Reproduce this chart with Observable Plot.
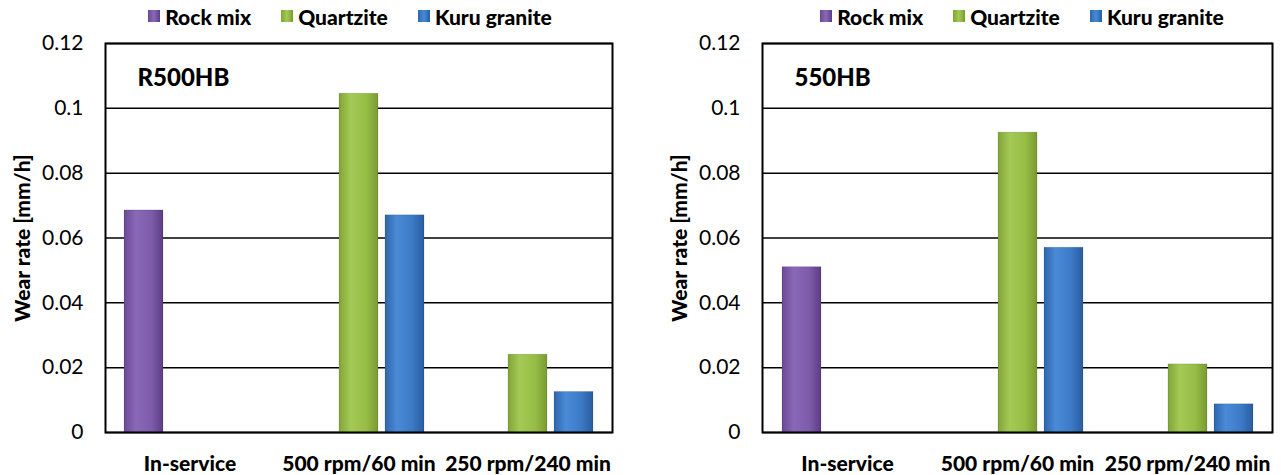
<!DOCTYPE html>
<html>
<head>
<meta charset="utf-8">
<script src="https://cdn.jsdelivr.net/npm/d3@7"></script>
<script src="https://cdn.jsdelivr.net/npm/@observablehq/plot@0.6"></script>
<style>
  html, body { margin: 0; padding: 0; background: white; }
  #root { position: relative; width: 1281px; height: 475px; overflow: hidden; font-family: Lato, "Open Sans", sans-serif; }
  .panel { position: absolute; top: 0; }
  .legend { position: absolute; top: 0; height: 32px; display: flex; align-items: center; justify-content: center; gap: 30px; font-weight: 900; font-size: 21px; white-space: nowrap; }
  .legend .item { display: flex; align-items: center; gap: 5px; }
  .legend .sw { width: 12px; height: 12px; display: inline-block; }
  .chart { position: absolute; top: 30px; left: 0; }
</style>
</head>
<body>
<svg width="0" height="0" style="position:absolute">
  <defs>
    <linearGradient id="gRock" x1="0" x2="1" y1="0" y2="0">
      <stop offset="0" stop-color="#6a4994"/>
      <stop offset="0.3" stop-color="#8a68b8"/>
      <stop offset="0.7" stop-color="#7e5cab"/>
      <stop offset="1" stop-color="#5c3d84"/>
    </linearGradient>
    <linearGradient id="gQuartz" x1="0" x2="1" y1="0" y2="0">
      <stop offset="0" stop-color="#82a438"/>
      <stop offset="0.3" stop-color="#a4ca55"/>
      <stop offset="0.7" stop-color="#96bd45"/>
      <stop offset="1" stop-color="#7a9a32"/>
    </linearGradient>
    <linearGradient id="gKuru" x1="0" x2="1" y1="0" y2="0">
      <stop offset="0" stop-color="#2e66ac"/>
      <stop offset="0.3" stop-color="#4a8ad6"/>
      <stop offset="0.7" stop-color="#3c7ac6"/>
      <stop offset="1" stop-color="#2a5c9e"/>
    </linearGradient>
  </defs>
</svg>
<div id="root"></div>
<script>
// ---- data ----
const categories = ["In-service", "500 rpm/60 min", "250 rpm/240 min"];
const series = ["Rock mix", "Quartzite", "Kuru granite"];
const seriesFills = ["url(#gRock)", "url(#gQuartz)", "url(#gKuru)"];
const legendSwatches = [
  "linear-gradient(to right, #6a4994, #8a68b8, #5c3d84)",
  "linear-gradient(to right, #82a438, #a4ca55, #7a9a32)",
  "linear-gradient(to right, #2e66ac, #4a8ad6, #2a5c9e)"
];
const yTicks = [0, 0.02, 0.04, 0.06, 0.08, 0.1, 0.12];
const yTickLabels = ["0", "0.02", "0.04", "0.06", "0.08", "0.1", "0.12"];
const yLabel = "Wear rate [mm/h]";

// R500HB panel: values per series, ordered by category
const r500Rock = [0.0685, null, null];
const r500Quartz = [null, 0.1045, 0.024];
const r500Kuru = [null, 0.067, 0.0125];

// 550HB panel
const h550Rock = [0.051, null, null];
const h550Quartz = [null, 0.0925, 0.021];
const h550Kuru = [null, 0.057, 0.0087];

const panelTitles = ["R500HB", "550HB"];

function rows(seriesArrays) {
  const out = [];
  categories.forEach((c, i) => {
    series.forEach((s, j) => {
      const v = seriesArrays[j][i];
      if (v != null) out.push({cat: c, series: s, value: v});
    });
  });
  return out;
}

function panel(left, width, marginLeft, marginRight, seriesArrays, title, legendCenter) {
  const root = document.getElementById("root");
  const div = document.createElement("div");
  div.className = "panel";
  div.style.left = left + "px";
  div.style.width = width + "px";
  div.style.height = "475px";
  root.appendChild(div);

  // legend
  const lg = document.createElement("div");
  lg.className = "legend";
  lg.style.left = (legendCenter - 300) + "px";
  lg.style.width = "600px";
  series.forEach((s, i) => {
    const it = document.createElement("span");
    it.className = "item";
    const sw = document.createElement("span");
    sw.className = "sw";
    sw.style.background = legendSwatches[i];
    const tx = document.createElement("span");
    tx.textContent = s;
    it.appendChild(sw); it.appendChild(tx);
    lg.appendChild(it);
  });
  div.appendChild(lg);

  const data = rows(seriesArrays);
  const chart = Plot.plot({
    width: width,
    height: 445,
    marginLeft: marginLeft,
    marginRight: marginRight,
    marginTop: 13,
    marginBottom: 43,
    style: {fontFamily: "Lato, 'Open Sans', sans-serif", fontSize: "21px", color: "black", background: "transparent"},
    fx: {domain: categories, padding: 0, label: null},
    x: {domain: series, paddingInner: 0.16, paddingOuter: 0.4, axis: null},
    y: {domain: [0, 0.12], label: null},
    color: {domain: series, range: seriesFills},
    marks: [
      Plot.gridY(yTicks, {stroke: "black", strokeOpacity: 1, strokeWidth: 1.5}),
      Plot.barY(data, {fx: "cat", x: "series", y: "value", fill: "series", stroke: "rgba(0,0,0,0.15)", strokeWidth: 0.8}),
      Plot.axisY(yTicks, {tickSize: 0, tickPadding: 22, tickFormat: (d, i) => yTickLabels[yTicks.indexOf(d)], label: null, fontSize: 21}),
      Plot.axisFx({anchor: "bottom", tickSize: 0, tickPadding: 24, fontWeight: 900, label: null, fontSize: 21}),
      Plot.frame({facet: "super", stroke: "black", strokeWidth: 2}),
      Plot.text([title], {facet: "super", frameAnchor: "top-left", dx: 32, dy: 35, lineAnchor: "middle", fontWeight: 900, fontSize: 24}),
      Plot.text([yLabel], {facet: "super", frameAnchor: "left", rotate: -90, textAnchor: "middle", lineAnchor: "middle", dx: -82, fontWeight: 900, fontSize: 21})
    ]
  });
  chart.classList.add("chart");
  div.appendChild(chart);
}

panel(0, 640, 104, 28, [r500Rock, r500Quartz, r500Kuru], panelTitles[0], 350);
panel(640, 641, 122, 9, [h550Rock, h550Quartz, h550Kuru], panelTitles[1], 382);
</script>
</body>
</html>
